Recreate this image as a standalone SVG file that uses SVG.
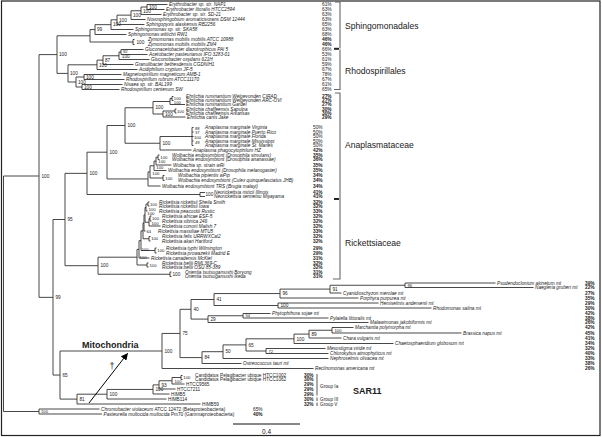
<svg xmlns="http://www.w3.org/2000/svg" width="602" height="437" viewBox="0 0 602 437">
<defs>
<style>
.ln{fill:none;stroke:#333;stroke-width:0.9}
.br{fill:none;stroke:#666;stroke-width:1.1}
.tk{fill:none;stroke:#222;stroke-width:2}
text{font-family:"Liberation Sans",Arial,sans-serif;fill:#1a1a1a}
.t{font-size:4.7px;font-style:italic}
.u{font-size:4.7px}
.bs{font-size:4.7px}
.sm{font-size:4.2px}
.p{font-size:4.8px}
.pb{font-size:4.8px;font-weight:bold}
.cl{font-size:8.6px}
.big{font-size:9px;font-weight:bold}
</style>
<marker id="ah" viewBox="0 0 10 10" refX="9" refY="5" markerWidth="7" markerHeight="7" orient="auto" markerUnits="userSpaceOnUse"><path d="M0,0L10,5L0,10z" fill="#000"/></marker>
</defs>
<rect x="1.5" y="1" width="598.5" height="434.5" fill="#fff" stroke="#222" stroke-width="1.2"/>

<g id="connectors">
<path class="ln" stroke-width="1.5" d="M3.5,176V411.5"/>
<path class="ln" d="M3.5,176H39M3.5,411.5H39M39,54.6V297.35M39,54.6H57M39,297.35H53"/>
<path class="ln" d="M57,35.79V73.4M57,35.79H90M57,73.4H68M90,29.58V42M90,29.58H95M90,42H133M95,24.66V34.5M95,24.66H111M95,34.5H126.5M111,19.81V29.5M111,19.81H117M111,29.5H133.5M117,15.125V24.5M117,15.125H131M117,24.5H144.5M131,10.75V19.5M131,10.75H141M131,19.5H145.5M141,7V14.5M141,7H147M141,14.5H161.5M147,4.5V9.5M147,4.5H167.5M147,9.5H164.5M133,39.5V44.5M133,39.5H134.5M133,44.5H134.5"/>
<path class="ln" d="M68,64.81V82M68,64.81H97M68,82H76M97,60.125V69.5M97,60.125H103M97,69.5H137.5M103,55.75V64.5M103,55.75H119M103,64.5H133.5M119,52V59.5M119,52H121M119,59.5H149.5M121,49.5V54.5M121,49.5H143.5M121,54.5H147.5M76,77V87M76,77H84M76,87H82M84,74.5V79.5M84,74.5H121.5M84,79.5H124.5M82,84.5V89.5M82,84.5H122.5M82,89.5H119.5"/>
<path class="ln" d="M53,219.5V375.05M53,219.5H65M53,375.05H60M65,173.35V265.7M65,173.35H87M65,265.7H98M87,152.2V194.5M87,152.2H107M87,194.5H200M107,125.5V178.95M107,125.5H125M107,178.95H148M125,107.75V143.25M125,107.75H153M125,143.25H160"/>
<path class="ln" d="M153,101.5V114M153,101.5H170M153,114H163M170,98.5V104.5M170,98.5H172M170,104.5H185M172,96.5V100.5M172,96.5H173.5M172,100.5H173.5M163,111V117M163,111H175M163,117H185.5M175,109V113M175,109H176.5M175,113H176.5"/>
<path class="ln" d="M160,136.5V150M160,136.5H192M160,150H191.5M192,127.5V145.5M192,127.5H193.5M192,132H193.5M192,136.5H193.5M192,141H193.5M192,145.5H193.5"/>
<path class="ln" d="M148,171.9V186M148,171.9H150M148,186H160.5M150,165.8V178M150,165.8H154M150,178H163M154,161.1V170.5M154,161.1H156M154,170.5H166.5M156,157.25V165M156,157.25H158M156,165H171.5M158,155V159.5M158,155H159.5M158,159.5H159.5M163,175.5V180.5M163,175.5H164.5M163,180.5H164.5M200,192.5V196.5M200,192.5H205M200,196.5H205"/>
<path class="ln" d="M98,257.2V274.25M98,257.2H137M98,274.25H170M170,272V276.5M170,272H171.5M170,276.5H171.5M137,249.35V265M137,249.35H139M137,265H147M147,263V267M147,263H148.5M147,267H148.5M139,240.7V258M139,240.7H141M139,258H149.5M141,230.85V250.5M141,230.85H143M141,250.5H155M155,248V253M155,248H156.5M155,253H156.5"/>
<path class="ln" d="M143,222.95V238.75M143,222.95H144M143,238.75H149M149,236.5V241M149,236.5H150.5M149,241H150.5M144,214.9V231M144,214.9H145M144,231H145.5M145,207.5V222.25M145,207.5H146M145,222.25H149M146,204V211M146,204H148M146,211H147.5M148,202V206M148,202H149.5M148,206H149.5M149,218.5V226M149,218.5H150M149,226H160.5M150,216V221M150,216H151.5M150,221H151.5"/>
<path class="ln" d="M60,351V399.1M60,351H162M60,399.1H77M162,333.45V368.5M162,333.45H180M162,368.5H313.5M180,309.3V357.6M180,309.3H191M180,357.6H202"/>
<path class="ln" d="M191,299.5V319.1M191,299.5H214M191,319.1H208M214,293.55V305.5M214,293.55H280M214,305.5H278M280,289.1V298M280,289.1H330M280,298H358.5M330,285.25V293M330,285.25H405M330,293H341.5M405,283V287.5M405,283H495.5M405,287.5H533.5M278,303V308M278,303H378.5M278,308H431.5M208,315.75V322.5M208,315.75H243M208,322.5H368.5M243,313.5V318M243,313.5H270.5M243,318H328.5"/>
<path class="ln" d="M202,351.7V363.5M202,351.7H223M202,363.5H241.5M223,344.9V358.5M223,344.9H246M223,358.5H328.5M246,338.8V351M246,338.8H294M246,351H266M294,334.1V343.5M294,334.1H309M294,343.5H393.5M309,330.25V338M309,330.25H332M309,338H341.5M332,327.5V333M332,327.5H353.5M332,333H461.5M266,348.5V353.5M266,348.5H325.5M266,353.5H328.5"/>
<path class="ln" d="M77,394.2V404M77,394.2H107M77,404H200.5M107,389.45V399M107,389.45H153M107,399H166.5M153,384.9V394M153,384.9H159M153,394H169.5M159,380.75V389M159,380.75H172M159,389H175.5M172,377.5V384M172,377.5H181M172,384H184.5M181,375.5V379.5M181,375.5H182.5M181,379.5H182.5"/>
<path class="ln" d="M39,409V414M39,409H99.5M39,414H102"/>
<line x1="89" y1="403" x2="127.5" y2="353.5" stroke="#000" stroke-width="1" marker-end="url(#ah)"/>
</g>

<g id="bootstrap">
<text class="bs" x="41.5" y="177.7">100</text>
<text class="bs" x="59" y="56.3">100</text>
<text class="bs" x="97" y="31.3">99</text>
<text class="bs" x="113" y="26.4">100</text>
<text class="bs" x="119" y="21.5">100</text>
<text class="bs" x="133" y="16.8">100</text>
<text class="bs" x="143" y="12.5">100</text>
<text class="bs" x="149" y="8.7">100</text>
<text class="bs" x="136.5" y="43.7">100</text>
<text class="sm" x="123" y="53.4">92</text>
<text class="bs" x="121.8" y="57.7">100</text>
<text class="bs" x="105" y="61.8">87</text>
<text class="bs" x="99" y="66.5">100</text>
<text class="bs" x="70" y="75.1">100</text>
<text class="bs" x="78" y="83.7">100</text>
<text class="bs" x="86" y="78.7">100</text>
<text class="bs" x="84" y="88.7">100</text>
<text class="bs" x="55.5" y="299">99</text>
<text class="bs" x="67.5" y="221.2">95</text>
<text class="bs" x="89.5" y="175">100</text>
<text class="bs" x="109.5" y="153.9">100</text>
<text class="bs" x="127.5" y="127.2">100</text>
<text class="bs" x="155.5" y="109.4">100</text>
<text class="sm" x="173.8" y="99.9">100</text>
<text class="sm" x="173.8" y="104">100</text>
<text class="sm" x="177" y="112.6">100</text>
<text class="bs" x="165" y="116">100</text>
<text class="bs" x="162.5" y="144.9">100</text>
<text class="sm" x="195" y="129.8">88</text>
<text class="sm" x="195" y="133.8">37</text>
<text class="sm" x="194" y="138.6">100</text>
<text class="sm" x="195" y="144.3">49</text>
<text class="sm" x="160.3" y="158.7">100</text>
<text class="sm" x="158.3" y="163.3">100</text>
<text class="sm" x="156.3" y="169.3">100</text>
<text class="sm" x="165.3" y="179.5">100</text>
<text class="sm" x="152.3" y="174.8">100</text>
<text class="bs" x="205.5" y="196.2">100</text>
<text class="bs" x="100.5" y="267.4">100</text>
<text class="bs" x="172.5" y="275.9">100</text>
<text class="sm" x="139.5" y="259">100</text>
<text class="sm" x="149.5" y="266.6">100</text>
<text class="sm" x="141.5" y="251">100</text>
<text class="sm" x="157.3" y="252">100</text>
<text class="sm" x="151.2" y="240.3">100</text>
<text class="sm" x="146.5" y="232.6">64</text>
<text class="sm" x="151.5" y="224.9">100</text>
<text class="sm" x="152" y="220">100</text>
<text class="sm" x="147.3" y="215.4">100</text>
<text class="sm" x="148.5" y="210.9">100</text>
<text class="sm" x="150" y="205.6">100</text>
<text class="bs" x="164.5" y="352.7">100</text>
<text class="bs" x="182.5" y="335.1">75</text>
<text class="bs" x="193.5" y="311">40</text>
<text class="bs" x="216.5" y="301.2">41</text>
<text class="bs" x="282.5" y="295.2">96</text>
<text class="bs" x="332.5" y="290.8">91</text>
<text class="sm" x="407.5" y="286.8">96</text>
<text class="bs" x="280.5" y="307.2">100</text>
<text class="bs" x="210.5" y="320.8">29</text>
<text class="sm" x="245.5" y="317.3">54</text>
<text class="bs" x="204.5" y="359.3">84</text>
<text class="bs" x="225.5" y="353.4">50</text>
<text class="bs" x="248.5" y="346.6">65</text>
<text class="bs" x="296.5" y="340.5">100</text>
<text class="bs" x="311.5" y="335.8">89</text>
<text class="sm" x="334.5" y="331.8">100</text>
<text class="sm" x="268.5" y="352.6">72</text>
<text class="sm" x="183.3" y="379">100</text>
<text class="sm" x="174.5" y="382.5">100</text>
<text class="bs" x="161.5" y="386.6">93</text>
<text class="bs" x="155.5" y="391.1">100</text>
<text class="bs" x="109.5" y="395.9">100</text>
<text class="bs" x="79.5" y="400.8">81</text>
<text class="bs" x="62.5" y="376.7">65</text>
<text class="sm" x="41" y="413.1">100</text>
</g>

<g id="sphingomonadales">
<text class="t" x="169" y="6.1">Erythrobacter sp. str. NAP1</text>
<text class="t" x="166" y="11.1">Erythrobacter litoralis HTCC2594</text>
<text class="t" x="163" y="16.1">Erythrobacter sp. str. SD-21</text>
<text class="t" x="147" y="21.1">Novosphingobium aromaticivorans DSM 12444</text>
<text class="t" x="146" y="26.1">Sphingopyxis alaskensis RB2256</text>
<text class="t" x="135" y="31.1">Sphingomonas sp. str. SKA58</text>
<text class="t" x="128" y="36.1">Sphingomonas wittichii RW1</text>
<text class="t" x="148" y="41.1">Zymomonas mobilis mobilis ATCC 10988</text>
<text class="t" x="148" y="46.1">Zymomonas mobilis mobilis ZM4</text>
<text class="p" x="322" y="6.2">61%</text><text class="p" x="322" y="11.2">63%</text><text class="p" x="322" y="16.2">63%</text><text class="p" x="322" y="21.2">63%</text><text class="p" x="322" y="26.2">65%</text><text class="p" x="322" y="31.2">63%</text><text class="p" x="322" y="36.2">68%</text><text class="pb" x="322" y="41.2">46%</text><text class="pb" x="322" y="46.2">46%</text>
<path class="br" d="M335,2H340V48.5"/><path class="tk" d="M334,48.8H339"/>
<text class="cl" x="345" y="29">Sphingomonadales</text>
</g>

<g id="rhodospirillales">
<text class="t" x="145" y="51.1">Gluconacetobacter diazotrophicus PAl 5</text>
<text class="t" x="149" y="56.1">Acetobacter pasteurianus IFO 3283-01</text>
<text class="t" x="151" y="61.1">Gluconobacter oxydans 621H</text>
<text class="t" x="135" y="66.1">Granulibacter bethesdensis CGDNIH1</text>
<text class="t" x="139" y="71.1">Acidiphilium cryptum JF-5</text>
<text class="t" x="123" y="76.1">Magnetospirillum magneticum AMB-1</text>
<text class="t" x="126" y="81.1">Rhodospirillum rubrum ATCC11170</text>
<text class="t" x="124" y="86.1">Nisaea sp. str. BAL199</text>
<text class="t" x="121" y="91.1">Rhodospirillum centenum SW</text>
<text class="p" x="322" y="51.2">66%</text><text class="p" x="322" y="56.2">53%</text><text class="p" x="322" y="61.2">61%</text><text class="p" x="322" y="66.2">59%</text><text class="p" x="322" y="71.2">67%</text><text class="p" x="322" y="76.2">78%</text><text class="p" x="322" y="81.2">67%</text><text class="p" x="322" y="86.2">61%</text><text class="p" x="322" y="91.2">65%</text>
<path class="br" d="M340,49.5V89.5H334"/>
<text class="cl" x="345" y="74">Rhodospirillales</text>
</g>

<g id="anaplasmataceae">
<text class="t" x="186" y="98.1">Ehrlichia ruminantium Welgevonden CIRAD</text>
<text class="t" x="186" y="102.1">Ehrlichia ruminantium Welgevonden ARC-OVI</text>
<text class="t" x="186" y="106.1">Ehrlichia ruminantium Gardel</text>
<text class="t" x="186" y="110.6">Ehrlichia chaffeensis Sapulpa</text>
<text class="t" x="186" y="114.6">Ehrlichia chaffeensis Arkansas</text>
<text class="t" x="187" y="118.6">Ehrlichia canis Jake</text>
<text class="pb" x="322" y="98.2">27%</text><text class="pb" x="322" y="102.2">27%</text><text class="pb" x="322" y="106.2">27%</text><text class="pb" x="322" y="110.7">30%</text><text class="pb" x="322" y="114.7">30%</text><text class="pb" x="322" y="118.7">29%</text>
<text class="t" x="205" y="129.1">Anaplasma marginale Virginia</text>
<text class="t" x="205" y="133.6">Anaplasma marginale Puerto Rico</text>
<text class="t" x="205" y="138.1">Anaplasma marginale Florida</text>
<text class="t" x="205" y="142.6">Anaplasma marginale Mississippi</text>
<text class="t" x="205" y="147.1">Anaplasma marginale St. Maries</text>
<text class="t" x="193" y="151.6">Anaplasma phagocytophilum HZ</text>
<text class="p" x="313" y="129.2">50%</text><text class="p" x="313" y="133.7">50%</text><text class="p" x="313" y="138.2">50%</text><text class="p" x="313" y="142.7">50%</text><text class="p" x="313" y="147.2">50%</text><text class="pb" x="313" y="151.7">42%</text>
<text class="t" x="172" y="156.6">Wolbachia endosymbiont (Drosophila simulans)</text>
<text class="t" x="172" y="161.1">Wolbachia endosymbiont (Drosophila ananassae)</text>
<text class="t" x="173" y="166.6">Wolbachia sp. strain wRi</text>
<text class="t" x="168" y="172.1">Wolbachia endosymbiont (Drosophila melanogaster)</text>
<text class="t" x="178" y="177.1">Wolbachia pipientis wPip</text>
<text class="t" x="178" y="182.1">Wolbachia endosymbiont (Culex quinquefasciatus JHB)</text>
<text class="t" x="162" y="187.6">Wolbachia endosymbiont TRS (Brugia malayi)</text>
<text class="pb" x="313" y="156.7">35%</text><text class="pb" x="313" y="161.2">36%</text><text class="pb" x="313" y="166.7">35%</text><text class="pb" x="313" y="172.2">35%</text><text class="pb" x="313" y="177.2">34%</text><text class="pb" x="313" y="182.2">34%</text><text class="pb" x="313" y="187.7">34%</text>
<text class="t" x="214" y="194.1">Neorickettsia risticii Illinois</text>
<text class="t" x="214" y="198.1">Neorickettsia sennetsu Miyayama</text>
<text class="pb" x="313" y="194.2">41%</text><text class="pb" x="313" y="198.2">41%</text>
<path class="br" d="M335,93H340V199"/><path class="tk" d="M334,199H339"/>
<text class="cl" x="345" y="148">Anaplasmataceae</text>
</g>

<g id="rickettsiaceae">
<text class="t" x="159" y="203.6">Rickettsia rickettsii Sheila Smith</text>
<text class="t" x="159" y="207.6">Rickettsia rickettsii Iowa</text>
<text class="t" x="159" y="212.6">Rickettsia peacockii Rustic</text>
<text class="t" x="162" y="217.6">Rickettsia africae ESF-5</text>
<text class="t" x="162" y="222.6">Rickettsia sibirica 246</text>
<text class="t" x="162" y="227.6">Rickettsia conorii Malish 7</text>
<text class="t" x="158" y="232.6">Rickettsia massiliae MTU5</text>
<text class="t" x="162" y="238.1">Rickettsia felis URRWXCal2</text>
<text class="t" x="162" y="242.6">Rickettsia akari Hartford</text>
<text class="t" x="166" y="249.6">Rickettsia typhi Wilmington</text>
<text class="t" x="166" y="254.6">Rickettsia prowazekii Madrid E</text>
<text class="t" x="151" y="259.6">Rickettsia canadensis McKiel</text>
<text class="t" x="162" y="264.6">Rickettsia bellii RML369-C</text>
<text class="t" x="162" y="268.6">Rickettsia bellii OSU 85-389</text>
<text class="t" x="185" y="273.6">Orientia tsutsugamushi Boryong</text>
<text class="t" x="185" y="278.1">Orientia tsutsugamushi Ikeda</text>
<text class="pb" x="313" y="203.7">32%</text><text class="pb" x="313" y="207.7">32%</text><text class="pb" x="313" y="212.7">33%</text><text class="pb" x="313" y="217.7">32%</text><text class="pb" x="313" y="222.7">32%</text><text class="pb" x="313" y="227.7">32%</text><text class="pb" x="313" y="232.7">33%</text><text class="pb" x="313" y="238.2">32%</text><text class="pb" x="313" y="242.7">32%</text><text class="pb" x="313" y="249.7">29%</text><text class="pb" x="313" y="254.7">29%</text><text class="pb" x="313" y="259.7">31%</text><text class="pb" x="313" y="264.7">32%</text><text class="pb" x="313" y="268.7">32%</text><text class="pb" x="313" y="273.7">31%</text><text class="pb" x="313" y="278.2">31%</text>
<path class="br" d="M340,199V279H333"/>
<text class="cl" x="345" y="246">Rickettsiaceae</text>
</g>

<g id="mitochondria">
<text class="t" x="497" y="284.6">Psudendoclonium akinetum mt</text>
<text class="t" x="535" y="289.1">Naegleria gruberi mt</text>
<text class="t" x="343" y="294.6">Cyanidioschyzon merolae mt</text>
<text class="t" x="360" y="299.6">Porphyra purpurea mt</text>
<text class="t" x="380" y="304.6">Hemiselmis andersenii mt</text>
<text class="t" x="433" y="309.6">Rhodomonas salina mt</text>
<text class="t" x="272" y="315.1">Phytophthora sojae mt</text>
<text class="t" x="330" y="319.6">Pylaiella littoralis mt</text>
<text class="t" x="370" y="324.1">Malawimonas jakobiformis mt</text>
<text class="t" x="355" y="329.1">Marchantia polymorpha mt</text>
<text class="t" x="463" y="334.6">Brassica napus mt</text>
<text class="t" x="343" y="339.6">Chara vulgaris mt</text>
<text class="t" x="395" y="345.1">Chaetosphaeridium globosum mt</text>
<text class="t" x="327" y="350.1">Mesostigma viride mt</text>
<text class="t" x="330" y="355.1">Chlorokybus atmophyticus mt</text>
<text class="t" x="330" y="360.1">Nephroselmis olivacea mt</text>
<text class="t" x="243" y="365.1">Ostreococcus tauri mt</text>
<text class="t" x="315" y="370.1">Reclinomonas americana mt</text>
<text class="pb" x="585" y="284.7">39%</text><text class="pb" x="585" y="289.2">22%</text><text class="pb" x="585" y="294.7">27%</text><text class="pb" x="585" y="299.7">35%</text><text class="pb" x="585" y="304.7">29%</text><text class="pb" x="585" y="309.7">30%</text><text class="pb" x="585" y="315.2">42%</text><text class="pb" x="585" y="319.7">38%</text><text class="pb" x="585" y="324.2">26%</text><text class="pb" x="585" y="329.2">42%</text><text class="pb" x="585" y="334.7">45%</text><text class="pb" x="585" y="339.7">41%</text><text class="pb" x="585" y="345.2">34%</text><text class="pb" x="585" y="350.2">32%</text><text class="pb" x="585" y="355.2">40%</text><text class="pb" x="585" y="360.2">33%</text><text class="pb" x="585" y="365.2">38%</text><text class="pb" x="585" y="370.2">26%</text>
<text class="big" x="82" y="348">Mitochondria</text>
<text x="112" y="369" font-size="9" text-anchor="middle">†</text>
</g>

<g id="sar11">
<text class="u" x="195" y="377.1">Candidatus Pelagibacter ubique HTCC1002</text>
<text class="u" x="195" y="381.1">Candidatus Pelagibacter ubique HTCC1062</text>
<text class="u" x="186" y="385.6">HTCC9565</text>
<text class="u" x="177" y="390.6">HTCC7211</text>
<text class="u" x="171" y="395.6">HIMB5</text>
<text class="u" x="168" y="400.6">HIMB114</text>
<text class="u" x="202" y="405.6">HIMB59</text>
<text class="pb" x="304" y="377.1" font-size="4.4">30%</text><text class="pb" x="304" y="381.3" font-size="4.4">30%</text><text class="pb" x="304" y="385.8">29%</text><text class="pb" x="304" y="390.8">29%</text><text class="pb" x="304" y="395.8">29%</text><text class="pb" x="304" y="400.8">30%</text><text class="pb" x="304" y="405.8">32%</text>
<path class="br" d="M317,374V395.5M317,397.5V401M317,402.5V406"/>
<text class="u" x="320" y="387.5">Group Ia</text>
<text class="u" x="320" y="400.8">Group III</text>
<text class="u" x="320" y="405.8">Group V</text>
<text class="big" x="353" y="394" font-size="8.5">SAR11</text>
</g>

<g id="outgroup">
<text class="t" x="101" y="410.6">Chromobacter violaceum <tspan font-style="normal">ATCC 12472 (Betaproteobacteria)</tspan></text>
<text class="t" x="103.5" y="415.6">Pasteurella multocida multocida <tspan font-style="normal">Pm70 (Gammaproteobacteria)</tspan></text>
<text class="p" x="253" y="410.7">65%</text>
<text class="pb" x="253" y="415.7">40%</text>
</g>

<g id="scale">
<path d="M233,424H300" stroke="#111" stroke-width="1" fill="none"/>
<text x="266.5" y="434" font-size="6.5" text-anchor="middle">0.4</text>
</g>
</svg>
